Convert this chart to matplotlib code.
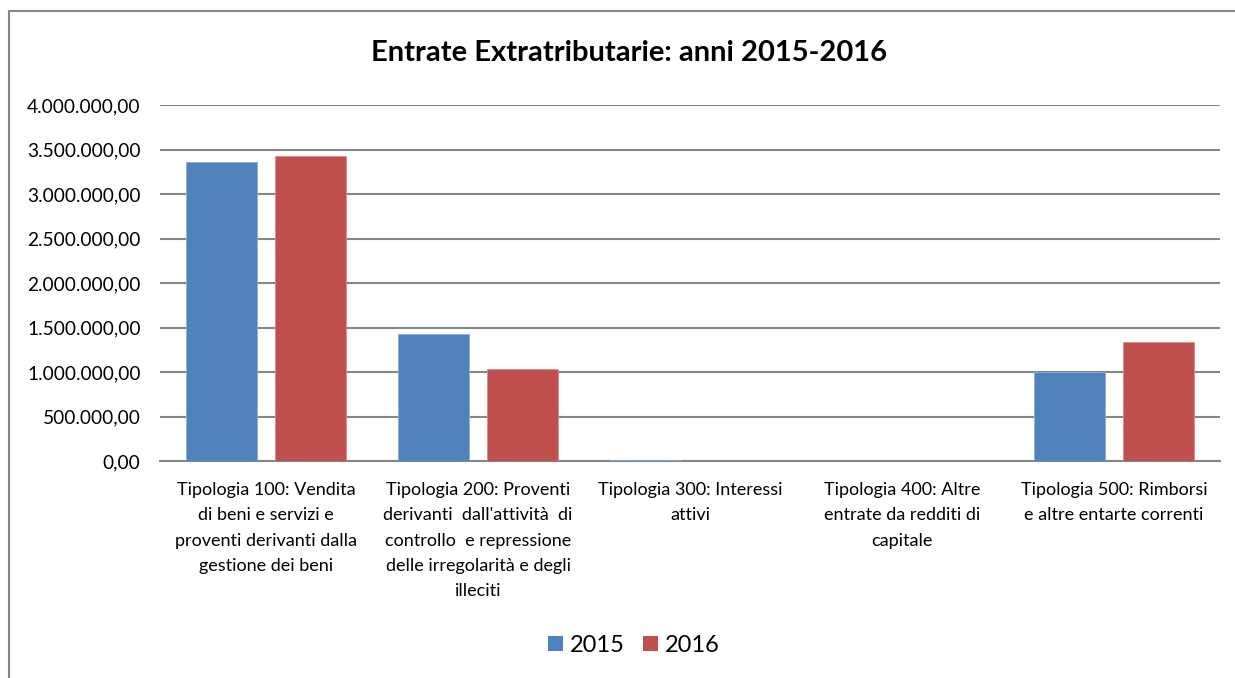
import matplotlib
matplotlib.use("Agg")
import matplotlib.pyplot as plt
import numpy as np
from matplotlib.ticker import FuncFormatter, MultipleLocator
from matplotlib.lines import Line2D
from matplotlib.patches import Patch

plt.rcParams['font.family'] = ['Lato', 'DejaVu Sans']

categories = [
    "Tipologia 100: Vendita\ndi beni e servizi e\nproventi derivanti dalla\ngestione dei beni",
    "Tipologia 200: Proventi\nderivanti  dall'attività  di\ncontrollo  e repressione\ndelle irregolarità e degli\nilleciti",
    "Tipologia 300: Interessi\nattivi",
    "Tipologia 400: Altre\nentrate da redditi di\ncapitale",
    "Tipologia 500: Rimborsi\ne altre entarte correnti",
]
values_2015 = [3360000, 1427000, 8000, 0, 1000000]
values_2016 = [3427000, 1034000, 500, 0, 1337000]
series_labels = ["2015", "2016"]
title = "Entrate Extratributarie: anni 2015-2016"

blue = "#4F81BD"
red = "#C0504D"
grid_c = "#868686"

W, H = 1235, 678
fig = plt.figure(figsize=(W / 100, H / 100), dpi=100)
ax = fig.add_axes([160 / W, 1 - 461 / H, (1220 - 160) / W, (461 - 105) / H])

x = np.arange(len(categories))
bw = 0.335
off = 0.21
ax.bar(x - off, values_2015, bw, color=blue, edgecolor="#8FB0D8", linewidth=0.6, zorder=3)
ax.bar(x + off, values_2016, bw, color=red, edgecolor="#DA8C8A", linewidth=0.6, zorder=3)

ax.set_xlim(-0.5, len(categories) - 0.5)
ax.set_ylim(0, 4000000)
ax.yaxis.set_major_locator(MultipleLocator(500000))


def it_fmt(v, pos):
    s = f"{v:,.2f}"
    return s.replace(",", "X").replace(".", ",").replace("X", ".")


ax.yaxis.set_major_formatter(FuncFormatter(it_fmt))
ax.grid(axis="y", color=grid_c, linewidth=1.5, zorder=0)
for s in ["left", "right", "top"]:
    ax.spines[s].set_visible(False)
ax.spines["bottom"].set_color(grid_c)
ax.spines["bottom"].set_linewidth(1.5)
ax.tick_params(axis="y", length=0, labelsize=13.8, pad=14, labelcolor="#000000")
ax.tick_params(axis="x", length=0, labelsize=13.0, pad=15)
ax.set_xticks(x)
ax.set_xticklabels(categories, linespacing=1.72, ha="center", va="top")

fig.text(629 / W, 1 - 53 / H, title, ha="center", va="center", fontsize=21, fontweight="bold")

handles = [Patch(facecolor=blue), Patch(facecolor=red)]
fig.legend(handles, series_labels, loc="center", bbox_to_anchor=(634 / W, 1 - 645 / H),
           ncol=2, frameon=False, fontsize=17, handlelength=0.62, handleheight=0.62,
           handletextpad=0.3, columnspacing=0.8)

# outer chart border (top and left visible)
fig.add_artist(Line2D([9 / W, 1.0], [1 - 11 / H, 1 - 11 / H], color=grid_c, linewidth=1.5))
fig.add_artist(Line2D([9 / W, 9 / W], [0, 1 - 11 / H], color=grid_c, linewidth=1.5))

fig.savefig("out.png", dpi=100, facecolor="white")
